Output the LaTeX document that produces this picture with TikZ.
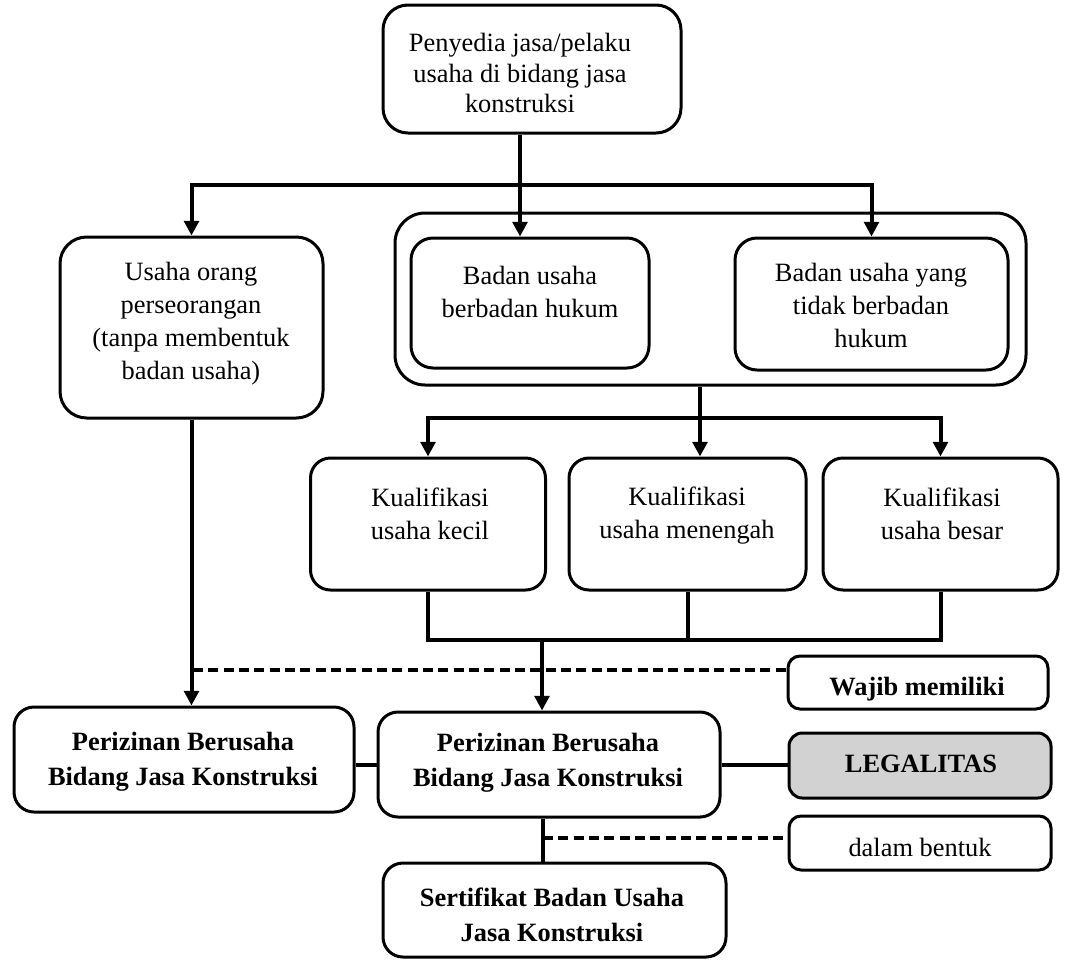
\documentclass[tikz,border=0pt]{standalone}
\usepackage{fontspec}
\setmainfont{Liberation Serif}
\usetikzlibrary{arrows.meta}
\definecolor{legalgray}{RGB}{210,210,210}

\begin{document}
\begin{tikzpicture}[x=0.75pt,y=-0.75pt,
  frame/.style n args={3}{draw, line width=2.25pt, rounded corners=#3, inner sep=0pt,
    minimum width=#1, minimum height=#2},
  txt/.style={align=center, inner sep=0pt, font=\fontsize{19.8pt}{24.75pt}\selectfont},
  toptxt/.style={align=center, inner sep=0pt, font=\fontsize{19.8pt}{23pt}\selectfont},
  boldtxt/.style={align=center, inner sep=0pt, font=\fontsize{19.8pt}{26.5pt}\selectfont\bfseries},
  conn/.style={line width=3pt},
  arr/.style={line width=3pt, -{Triangle[width=11pt,length=11pt]}},
  dashline/.style={line width=3pt, dash pattern=on 7.5pt off 4pt}]

\useasboundingbox (0,0) rectangle (1066,961);

% boxes
\node[frame={223.5pt}{96pt}{18.75pt}]      (top)  at (532,69) {};
\node[frame={197.25pt}{135.75pt}{20pt}]    (uo)   at (191.5,327.5) {};
\node[frame={473.25pt}{129pt}{22.5pt}]     (cont) at (710.5,299) {};
\node[frame={178.5pt}{97.5pt}{16.5pt}]     (bh)   at (530,303) {};
\node[frame={204.75pt}{99pt}{16.5pt}]      (bt)   at (871.5,304) {};
\node[frame={176.25pt}{99pt}{15pt}]        (k1)   at (428,524) {};
\node[frame={177.75pt}{99pt}{15pt}]        (k2)   at (687.5,524) {};
\node[frame={176.25pt}{99pt}{15pt}]        (k3)   at (940.5,524) {};
\node[frame={195pt}{39.75pt}{9pt}]         (wm)   at (918,682.5) {};
\node[frame={255pt}{78.75pt}{15pt}]        (pl)   at (184,759.5) {};
\node[frame={256.5pt}{78.75pt}{15pt}]      (pm)   at (549,764.5) {};
\node[frame={196.5pt}{48.75pt}{10pt}, fill=legalgray] (leg) at (920,765.5) {};
\node[frame={196.5pt}{40.5pt}{9pt}]        (db)   at (920,843) {};
\node[frame={257.25pt}{70.5pt}{15pt}]      (sert) at (554.5,910) {};

% texts
\node[toptxt]  (top-t)  at (520,73)  {Penyedia jasa/pelaku\\usaha di bidang jasa\\konstruksi};
\node[txt]     (uo-t)   at (191,324) {Usaha orang\\perseorangan\\(tanpa membentuk\\badan usaha)};
\node[txt]     (bh-t)   at (530,292) {Badan usaha\\berbadan hukum};
\node[txt]     (bt-t)   at (871,305) {Badan usaha yang\\tidak berbadan\\hukum};
\node[txt]     (k1-t)   at (430,514) {Kualifikasi\\usaha kecil};
\node[txt]     (k2-t)   at (687,516) {Kualifikasi\\usaha menengah};
\node[txt]     (k3-t)   at (942,514) {Kualifikasi\\usaha besar};
\node[boldtxt] (wm-t)   at (917,689) {Wajib memiliki};
\node[boldtxt] (pl-t)   at (183,762) {Perizinan Berusaha\\Bidang Jasa Konstruksi};
\node[boldtxt] (pm-t)   at (548,763) {Perizinan Berusaha\\Bidang Jasa Konstruksi};
\node[boldtxt] (leg-t)  at (921,764) {LEGALITAS};
\node[txt]     (db-t)   at (920,847) {dalam bentuk};
\node[boldtxt] (sert-t) at (552,915) {Sertifikat Badan Usaha\\Jasa Konstruksi};

% junction points
\coordinate (sp1) at (520,185);
\coordinate (sp2) at (700,418);
\coordinate (sp3) at (542,640);
\coordinate (dw)  at (193,670);
\coordinate (sp4) at (543,838);

% top split
\draw[conn] (sp1 |- top.south) -- (sp1);
\draw[arr]  (sp1) -- (sp1 |- bh.north);
\draw[arr]  (sp1) -| (uo.north);
\draw[arr]  (sp1) -| (bt.north);

% qualification split
\draw[conn] (sp2 |- cont.south) -- (sp2);
\draw[arr]  (sp2) -| (k1.north);
\draw[arr]  (sp2) -- (sp2 |- k2.north);
\draw[arr]  (sp2) -| (k3.north);

% qualifications merge
\draw[conn] (k1.south) -- (k1.south |- sp3) -- (k3.south |- sp3) -- (k3.south);
\draw[conn] (k2.south) -- (k2.south |- sp3);
\draw[arr]  (sp3) -- (sp3 |- pm.north);

% individual business path
\draw[arr]  (uo.south) -- (uo.south |- pl.north);
\draw[dashline] (dw) -- (dw -| wm.west);

% licence links
\draw[conn] (pm.west -| pl.east) -- (pm.west);
\draw[conn] (pm.east) -- (pm.east -| leg.west);
\draw[conn] (sp4 |- pm.south) -- (sp4 |- sert.north);
\draw[dashline] (sp4) -- (sp4 -| db.west);

\end{tikzpicture}
\end{document}
